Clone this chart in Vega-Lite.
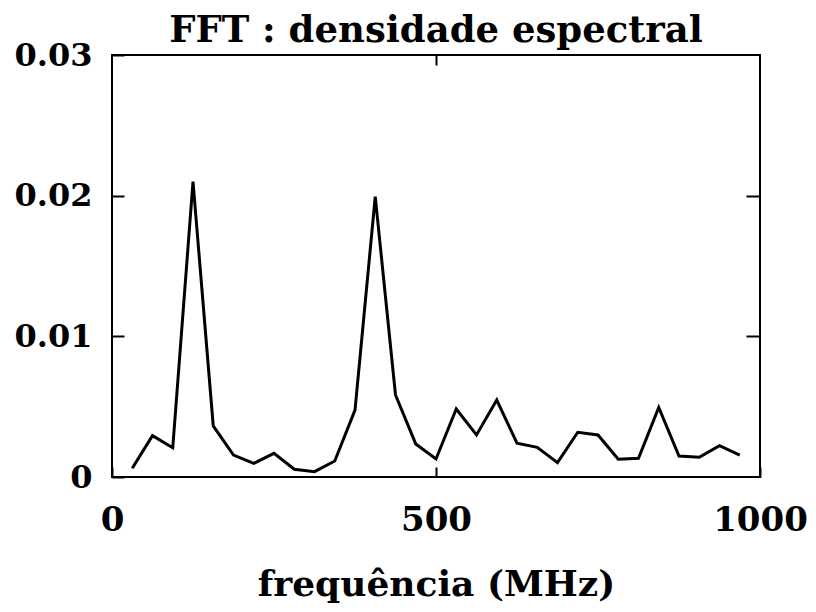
{
  "$schema": "https://vega.github.io/schema/vega-lite/v6.json",
  "width": 648,
  "height": 422,
  "autosize": {"type": "none"},
  "padding": {"left": 112, "top": 55, "right": 56, "bottom": 135},
  "background": "white",
  "config": {
    "view": {"stroke": "black", "strokeWidth": 2},
    "font": "DejaVu Serif"
  },
  "title": {
    "text": "FFT : densidade espectral",
    "font": "DejaVu Serif",
    "fontSize": 37,
    "fontWeight": "bold",
    "color": "black",
    "anchor": "middle",
    "frame": "group",
    "offset": 12,
    "dy": 23
  },
  "data": {
    "values": [
      {"f": 31.25, "p": 0.00062},
      {"f": 62.5, "p": 0.00294},
      {"f": 93.75, "p": 0.00208},
      {"f": 125, "p": 0.0210},
      {"f": 156.25, "p": 0.00363},
      {"f": 187.5, "p": 0.00156},
      {"f": 218.75, "p": 0.00097},
      {"f": 250, "p": 0.00168},
      {"f": 281.25, "p": 0.00055},
      {"f": 312.5, "p": 0.00038},
      {"f": 343.75, "p": 0.00114},
      {"f": 375, "p": 0.00476},
      {"f": 406.25, "p": 0.01993},
      {"f": 437.5, "p": 0.00583},
      {"f": 468.75, "p": 0.00235},
      {"f": 500, "p": 0.00128},
      {"f": 531.25, "p": 0.00483},
      {"f": 562.5, "p": 0.00299},
      {"f": 593.75, "p": 0.00547},
      {"f": 625, "p": 0.0024},
      {"f": 656.25, "p": 0.00211},
      {"f": 687.5, "p": 0.00102},
      {"f": 718.75, "p": 0.00318},
      {"f": 750, "p": 0.00299},
      {"f": 781.25, "p": 0.00126},
      {"f": 812.5, "p": 0.00133},
      {"f": 843.75, "p": 0.00495},
      {"f": 875, "p": 0.00149},
      {"f": 906.25, "p": 0.0014},
      {"f": 937.5, "p": 0.00223},
      {"f": 968.75, "p": 0.00156}
    ]
  },
  "layer": [
    {
      "mark": {"type": "line", "color": "black", "strokeWidth": 3},
      "encoding": {
        "x": {
          "field": "f", "type": "quantitative",
          "scale": {"domain": [0, 1000], "nice": false, "zero": false},
          "axis": {
            "orient": "bottom",
            "values": [0, 500, 1000],
            "format": "d",
            "title": "frequência (MHz)",
            "titleFont": "DejaVu Serif",
            "titleFontSize": 36,
            "titleFontWeight": "bold",
            "titleColor": "black",
            "titlePadding": 30,
            "labelFont": "DejaVu Serif",
            "labelFontSize": 34,
            "labelFontWeight": "bold",
            "labelColor": "black",
            "labelPadding": 36,
            "labelFlush": false,
            "labelOverlap": false,
            "domain": false,
            "grid": false,
            "ticks": true,
            "tickSize": -10,
            "tickColor": "black",
            "tickWidth": 2
          }
        },
        "y": {
          "field": "p", "type": "quantitative",
          "scale": {"domain": [0, 0.03], "nice": false, "zero": true},
          "axis": {
            "orient": "left",
            "values": [0, 0.01, 0.02, 0.03],
            "title": null,
            "labelExpr": "datum.value == 0 ? '0' : format(datum.value, '.2f')",
            "labelFont": "DejaVu Serif",
            "labelFontSize": 32,
            "labelFontWeight": "bold",
            "labelColor": "black",
            "labelPadding": 32,
            "labelFlush": false,
            "labelOverlap": false,
            "labelBaseline": "middle",
            "domain": false,
            "grid": false,
            "ticks": true,
            "tickSize": -12,
            "tickColor": "black",
            "tickWidth": 2
          }
        }
      }
    },
    {
      "mark": {"type": "line", "color": "black", "strokeWidth": 3, "strokeOpacity": 0},
      "encoding": {
        "x": {
          "field": "f", "type": "quantitative",
          "axis": {
            "orient": "top",
            "values": [500],
            "title": null,
            "labels": false,
            "domain": false,
            "grid": false,
            "tickSize": -10,
            "tickColor": "black",
            "tickWidth": 2
          }
        },
        "y": {
          "field": "p", "type": "quantitative",
          "axis": {
            "orient": "right",
            "values": [0.01, 0.02],
            "title": null,
            "labels": false,
            "domain": false,
            "grid": false,
            "tickSize": -14,
            "tickColor": "black",
            "tickWidth": 2
          }
        }
      }
    }
  ],
  "resolve": {"axis": {"x": "independent", "y": "independent"}}
}
